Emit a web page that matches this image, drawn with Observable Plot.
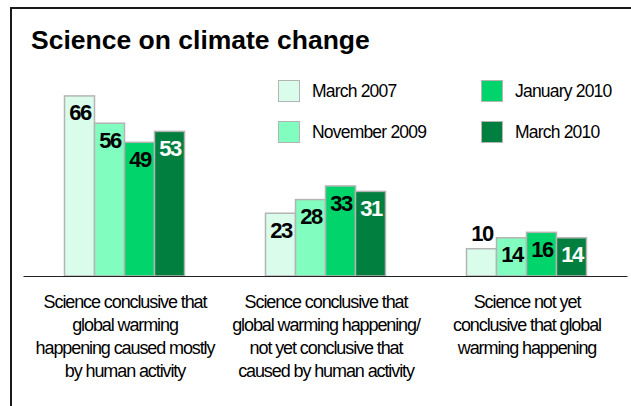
<!DOCTYPE html>
<html>
<head>
<meta charset="utf-8">
<script src="https://cdn.jsdelivr.net/npm/d3@7"></script>
<script src="https://cdn.jsdelivr.net/npm/@observablehq/plot@0.6"></script>
<style>
  body { margin: 0; background: #fff; font-family: "Liberation Sans", Arial, sans-serif; }
  #chart { position: relative; width: 631px; height: 406px; overflow: hidden; background: #fff; }
  #frame { position: absolute; left: 10px; top: 7px; width: 700px; height: 500px;
           border-left: 2px solid #1a1a1a; border-top: 2px solid #1a1a1a; }
  #title { position: absolute; left: 31px; top: 27px; font-size: 26.5px; line-height: 26px;
           font-weight: bold; color: #000; white-space: nowrap; }
  #legend { position: absolute; left: 0; top: 0; }
  .item { position: absolute; display: flex; align-items: center; height: 22px;
          font-size: 17.5px; letter-spacing: -0.8px; color: #000; white-space: nowrap; }
  .sw { width: 20px; height: 20px; border: 1.5px solid #b4b4b4; margin-right: 12px; flex: none; }
  #plot { position: absolute; left: 0; top: 0; }
  #plot svg { overflow: visible; }
  g[aria-description="categories"] text { letter-spacing: -1.1px; }
  g[aria-description="values"] text { letter-spacing: -1.5px; }
</style>
</head>
<body>
<div id="chart">
  <div id="frame"></div>
  <div id="title">Science on climate change</div>
  <div id="legend"></div>
  <div id="plot"></div>
</div>
<script>
// Survey waves and answer categories
const series = ["March 2007", "November 2009", "January 2010", "March 2010"];
const categories = [
  "Science conclusive that\nglobal warming\nhappening caused mostly\nby human activity",
  "Science conclusive that\nglobal warming happening/\nnot yet conclusive that\ncaused by human activity",
  "Science not yet\nconclusive that global\nwarming happening"
];

// Percentages per wave, one value per category
const march2007 = [66, 23, 10];
const november2009 = [56, 28, 14];
const january2010 = [49, 33, 16];
const march2010 = [53, 31, 14];

const colors = ["#d9fdea", "#80fdbf", "#00d46a", "#007f3f"];

const values = [march2007, november2009, january2010, march2010];
const rows = [];
categories.forEach((c, i) => {
  series.forEach((s, j) => rows.push({category: c, series: s, value: values[j][i]}));
});

// Legend: two columns, two rows
const legendPos = [[278, 80], [278, 121], [481, 80], [481, 121]];
const legend = document.getElementById("legend");
series.forEach((s, j) => {
  const item = document.createElement("div");
  item.className = "item";
  item.style.left = legendPos[j][0] + "px";
  item.style.top = legendPos[j][1] + "px";
  const sw = document.createElement("div");
  sw.className = "sw";
  sw.style.background = colors[j];
  const label = document.createElement("span");
  label.textContent = s;
  item.append(sw, label);
  legend.append(item);
});

const valueText = {
  ariaDescription: "values",
  fx: "category", x: "series", y: "value", text: d => String(d.value),
  fontSize: 22, fontWeight: "bold"
};

const chart = Plot.plot({
  width: 631,
  height: 406,
  marginTop: 85,
  marginBottom: 130,
  marginLeft: 62.5,
  marginRight: 42.6,
  style: {background: "transparent", fontFamily: "Liberation Sans, Arial, sans-serif"},
  fx: {domain: categories, paddingInner: 0.39, paddingOuter: 0, axis: null, label: null},
  x: {domain: series, padding: 0, axis: null},
  y: {domain: [0, 70], axis: null},
  color: {domain: series, range: colors},
  marks: [
    Plot.barY(rows, {
      fx: "category", x: "series", y: "value", fill: "series",
      stroke: "#b4b4b4", strokeWidth: 1.5, insetLeft: 0, insetRight: 0
    }),
    Plot.ruleY([0], {stroke: "#222", strokeWidth: 1.2, insetLeft: -39.5, insetRight: -39.5}),
    // labels inside the bar tops
    Plot.text(rows, {...valueText, filter: d => d.value > 12 && d.series !== "March 2010", dy: 17, fill: "#000"}),
    Plot.text(rows, {...valueText, filter: d => d.value > 12 && d.series === "March 2010", dy: 17, fill: "#fff"}),
    // short bars get their label above
    Plot.text(rows, {...valueText, filter: d => d.value <= 12, dy: -15, fill: "#000"}),
    Plot.text(categories, {
      ariaDescription: "categories",
      fx: d => d, text: d => d,
      frameAnchor: "bottom", lineAnchor: "top", dy: 15,
      lineHeight: 1.28, fontSize: 18, fill: "#000"
    })
  ]
});
document.getElementById("plot").append(chart);
</script>
</body>
</html>
